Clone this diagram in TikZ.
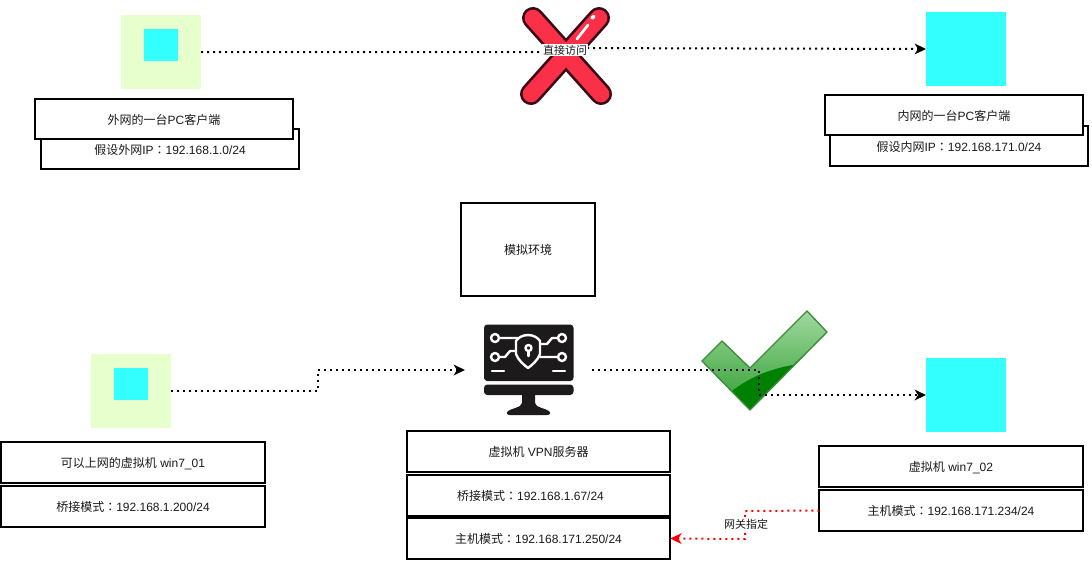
\documentclass[tikz,border=0pt]{standalone}
\usepackage{fontspec}
\setmainfont{Liberation Sans}
\newfontfamily\cjk{Noto Sans CJK SC}
\newfontfamily\cjktc{Noto Sans CJK TC}
\newcommand{\fullcolon}{{\cjktc ：}}
\usetikzlibrary{arrows.meta,calc}
\definecolor{txt}{HTML}{1A1A1A}
\definecolor{cy}{HTML}{33FFFF}
\definecolor{lime}{HTML}{E6FFCC}
\definecolor{crossdark}{HTML}{3A0A16}
\definecolor{crossred}{HTML}{F93047}
\definecolor{checktop}{HTML}{A2D9A2}
\definecolor{checkmid}{HTML}{2E9E2E}
\definecolor{checkdark}{HTML}{008000}
\definecolor{checkline}{HTML}{3C8C3C}
\definecolor{icon}{HTML}{1C1A1A}
\tikzset{
  cell/.style={draw=black,fill=white,line width=1.5pt,inner sep=0pt,outer sep=0pt,text=txt,font=\fontsize{9}{11}\selectfont,align=center,text height=10pt,text depth=2pt},
  boxwide/.style={cell,minimum width=258*0.75pt,minimum height=40*0.75pt},
  boxbig/.style={cell,minimum width=263.5*0.75pt,minimum height=40.6*0.75pt},
  flat/.style={inner sep=0pt,outer sep=0pt,minimum width=#1*0.75pt},
  lbl/.style={inner sep=0.5pt,fill=white,text=txt,font=\fontsize{8.25}{10}\selectfont},
  dotline/.style={line width=1.5pt,dash pattern=on 1.5pt off 3pt,-{Stealth[length=8.5pt,width=8pt,inset=2.5pt]}},
  whiteline/.style={draw=white,line width=1.8pt,line cap=round,line join=round},
}
\begin{document}
\begin{tikzpicture}[x=0.75pt,y=-0.75pt]
\useasboundingbox (0,0) rectangle (1092,562);

% top-left client
\node[flat=80,minimum height=74*0.75pt,fill=lime] (pcA) at (161,52) {};
\node[flat=34,minimum height=32*0.75pt,fill=cy] (pcAin) at (161,45) {};
\node[boxwide] (aBack) at (170,149) {{\cjk 假设外网}IP\fullcolon 192.168.1.0/24};
\node[boxwide] (aTop) at (164,119) {{\cjk 外网的一台}PC{\cjk 客户端}};

% top-right client
\node[flat=80,minimum height=74*0.75pt,fill=cy] (pcB) at (966,49) {};
\node[boxwide] (bBack) at (959,146) {{\cjk 假设内网}IP\fullcolon 192.168.171.0/24};
\node[boxwide] (bTop) at (954,115) {{\cjk 内网的一台}PC{\cjk 客户端}};

% red cross
\draw[line width=16.5pt,line cap=round,draw=crossdark] (533,18) -- (601,94) (599,18) -- (531,94);
\draw[line width=12.5pt,line cap=round,draw=crossred] (533,18) -- (601,94) (599,18) -- (531,94);
\draw[line width=2pt,line cap=round,white] (577,39) -- (588,25);
\draw[line width=2.6pt,line cap=round,white] (592,18) -- (594,16.5);

% model environment box
\node[cell,minimum width=134*0.75pt,minimum height=93*0.75pt] (env) at (528,249.5) {{\cjk 模拟环境}};

% left vm
\node[flat=80,minimum height=74*0.75pt,fill=lime] (vm1) at (131,391) {};
\node[flat=34,minimum height=32*0.75pt,fill=cy] (vm1in) at (131,384) {};
\node[boxbig] (vm1a) at (133,462.5) {{\cjk 可以上网的虚拟机} win7\_01};
\node[boxbig] (vm1b) at (133,506.5) {{\cjk 桥接模式}\fullcolon 192.168.1.200/24};

% monitor icon
\fill[icon,rounded corners=2.5pt] (484,324.5) rectangle (573.5,381);
\fill[icon,rounded corners=2.5pt] (484,384.5) -- (573.5,384.5) -- (573.5,395) -- (484,395) -- cycle;
\fill[icon] (522,395) -- (535,395) -- (535,403) .. controls (536,408) and (545,408) .. (549,411) .. controls (551,413) and (550,415) .. (547,415) -- (510,415) .. controls (507,415) and (506,413) .. (508,411) .. controls (512,408) and (521,408) .. (522,403) -- cycle;
\draw[whiteline] (528,335) .. controls (522,335) and (518,338) .. (516,341) -- (516,354) .. controls (518,360) and (524,365) .. (528,368) .. controls (532,365) and (538,360) .. (540,354) -- (540,341) .. controls (538,338) and (534,335) .. (528,335) -- cycle;
\draw[whiteline] (528.5,348) circle (3);
\draw[whiteline] (528.5,351) -- (528.5,356);
\draw[whiteline] (495,338) circle (4) (499,338) -- (518,338);
\draw[whiteline] (495,357) circle (4) (499,357) -- (505,357) -- (510,351) -- (516,351);
\draw[whiteline] (562,338) circle (4) (558,338) -- (552,338) -- (547,344) -- (540,344);
\draw[whiteline] (562,357) circle (4) (558,357) -- (540,357);
\draw[whiteline] (492,371) -- (504,371) (553,371) -- (565,371);
\coordinate (iconW) at (465,370);
\coordinate (iconE) at (592,370);

% vpn boxes
\node[boxbig] (vpnA) at (538.5,451.5) {{\cjk 虚拟机} VPN{\cjk 服务器}};
\node[boxbig] (vpnB) at (538.5,495.5) {{\cjk 桥接模式}\fullcolon 192.168.1.67/24\hspace{12pt}};
\node[boxbig] (vpnC) at (538.5,538.5) {{\cjk 主机模式}\fullcolon 192.168.171.250/24};

% right vm
\node[flat=80,minimum height=74*0.75pt,fill=cy] (vm2) at (966,395) {};
\node[boxbig] (vm2a) at (951,466.5) {{\cjk 虚拟机} win7\_02};
\node[boxbig] (vm2b) at (951,510.5) {{\cjk 主机模式}\fullcolon 192.168.171.234/24};

% check mark
\begin{scope}
\clip (702,361) -- (722,341) -- (750,368) -- (807,311) -- (827,332) -- (750,410) -- cycle;
\shade[top color=checktop,bottom color=checkmid] (700,310) rectangle (830,410);
\fill[checkdark] (732,391) .. controls (750,377) and (770,369) .. (793,365) -- (830,330) -- (830,412) -- (700,412) -- cycle;
\end{scope}
\draw[draw=checkline,line width=1pt,line join=miter] (702,361) -- (722,341) -- (750,368) -- (807,311) -- (827,332) -- (750,410) -- cycle;

% connectors
\coordinate (j1) at (565,52);
\coordinate (j2) at (565,48);
\coordinate (j3) at (318,391);
\coordinate (j4) at (318,370);
\coordinate (j5) at (759,370);
\coordinate (j6) at (759,395);
\coordinate (j7) at (745,511);
\coordinate (j8) at (745,539);
\draw[dotline] (pcA.east) -- (j1) -- (j2) -- (pcB.west);
\node[lbl] (direct) at (565,50) {{\cjk 直接访问}};
\draw[dotline] (vm1.east) -- (j3) -- (j4) -- (iconW);
\draw[dotline] (iconE) -- (j5) -- (j6) -- (vm2.west);
\draw[dotline,red] (vm2b.west) -- (j7) -- (j8) -- (vpnC.east);
\node[lbl] (gw) at (746,524) {{\cjk 网关指定}};
\end{tikzpicture}
\end{document}
